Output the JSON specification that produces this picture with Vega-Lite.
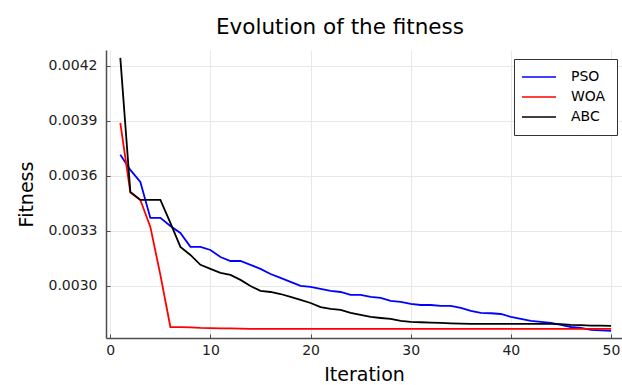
{
  "$schema": "https://vega.github.io/schema/vega-lite/v6.json",
  "autosize": {"type": "none"},
  "width": 516,
  "height": 288,
  "padding": {"left": 106, "top": 50, "right": 0, "bottom": 47},
  "background": "white",
  "config": {
    "font": "DejaVu Sans",
    "view": {"stroke": null},
    "axis": {
      "labelFont": "DejaVu Sans",
      "titleFont": "DejaVu Sans",
      "labelFontSize": 14,
      "labelColor": "#222222",
      "titleFontSize": 19,
      "titleFontWeight": "normal",
      "titleColor": "#000000",
      "gridColor": "#e8e8e8",
      "gridWidth": 1,
      "domainColor": "#4d4d4d",
      "domainWidth": 1.5,
      "tickColor": "#4d4d4d"
    }
  },
  "title": {
    "text": "Evolution of the fitness",
    "fontSize": 21.5,
    "fontWeight": "normal",
    "font": "DejaVu Sans",
    "color": "#000000",
    "anchor": "middle",
    "dx": -24,
    "offset": 12
  },
  "data": {
    "values": [
      {"iter": 1, "alg": "PSO", "fit": 0.003715},
      {"iter": 2, "alg": "PSO", "fit": 0.003633},
      {"iter": 3, "alg": "PSO", "fit": 0.003567},
      {"iter": 4, "alg": "PSO", "fit": 0.003371},
      {"iter": 5, "alg": "PSO", "fit": 0.003371},
      {"iter": 6, "alg": "PSO", "fit": 0.003327},
      {"iter": 7, "alg": "PSO", "fit": 0.003289},
      {"iter": 8, "alg": "PSO", "fit": 0.003213},
      {"iter": 9, "alg": "PSO", "fit": 0.003213},
      {"iter": 10, "alg": "PSO", "fit": 0.003196},
      {"iter": 11, "alg": "PSO", "fit": 0.003158},
      {"iter": 12, "alg": "PSO", "fit": 0.003136},
      {"iter": 13, "alg": "PSO", "fit": 0.003136},
      {"iter": 14, "alg": "PSO", "fit": 0.003115},
      {"iter": 15, "alg": "PSO", "fit": 0.003093},
      {"iter": 16, "alg": "PSO", "fit": 0.003065},
      {"iter": 17, "alg": "PSO", "fit": 0.003044},
      {"iter": 18, "alg": "PSO", "fit": 0.003022},
      {"iter": 19, "alg": "PSO", "fit": 0.003000},
      {"iter": 20, "alg": "PSO", "fit": 0.002995},
      {"iter": 21, "alg": "PSO", "fit": 0.002984},
      {"iter": 22, "alg": "PSO", "fit": 0.002973},
      {"iter": 23, "alg": "PSO", "fit": 0.002967},
      {"iter": 24, "alg": "PSO", "fit": 0.002951},
      {"iter": 25, "alg": "PSO", "fit": 0.002951},
      {"iter": 26, "alg": "PSO", "fit": 0.002940},
      {"iter": 27, "alg": "PSO", "fit": 0.002935},
      {"iter": 28, "alg": "PSO", "fit": 0.002918},
      {"iter": 29, "alg": "PSO", "fit": 0.002913},
      {"iter": 30, "alg": "PSO", "fit": 0.002902},
      {"iter": 31, "alg": "PSO", "fit": 0.002896},
      {"iter": 32, "alg": "PSO", "fit": 0.002896},
      {"iter": 33, "alg": "PSO", "fit": 0.002891},
      {"iter": 34, "alg": "PSO", "fit": 0.002891},
      {"iter": 35, "alg": "PSO", "fit": 0.002880},
      {"iter": 36, "alg": "PSO", "fit": 0.002864},
      {"iter": 37, "alg": "PSO", "fit": 0.002853},
      {"iter": 38, "alg": "PSO", "fit": 0.002851},
      {"iter": 39, "alg": "PSO", "fit": 0.002847},
      {"iter": 40, "alg": "PSO", "fit": 0.002831},
      {"iter": 41, "alg": "PSO", "fit": 0.002820},
      {"iter": 42, "alg": "PSO", "fit": 0.002809},
      {"iter": 43, "alg": "PSO", "fit": 0.002804},
      {"iter": 44, "alg": "PSO", "fit": 0.002798},
      {"iter": 45, "alg": "PSO", "fit": 0.002787},
      {"iter": 46, "alg": "PSO", "fit": 0.002776},
      {"iter": 47, "alg": "PSO", "fit": 0.002771},
      {"iter": 48, "alg": "PSO", "fit": 0.002760},
      {"iter": 49, "alg": "PSO", "fit": 0.002758},
      {"iter": 50, "alg": "PSO", "fit": 0.002755},
      {"iter": 1, "alg": "WOA", "fit": 0.003890},
      {"iter": 2, "alg": "WOA", "fit": 0.003510},
      {"iter": 3, "alg": "WOA", "fit": 0.003469},
      {"iter": 4, "alg": "WOA", "fit": 0.003322},
      {"iter": 5, "alg": "WOA", "fit": 0.003060},
      {"iter": 6, "alg": "WOA", "fit": 0.002776},
      {"iter": 7, "alg": "WOA", "fit": 0.002775},
      {"iter": 8, "alg": "WOA", "fit": 0.002774},
      {"iter": 9, "alg": "WOA", "fit": 0.002771},
      {"iter": 10, "alg": "WOA", "fit": 0.002770},
      {"iter": 11, "alg": "WOA", "fit": 0.002769},
      {"iter": 12, "alg": "WOA", "fit": 0.002768},
      {"iter": 13, "alg": "WOA", "fit": 0.002767},
      {"iter": 14, "alg": "WOA", "fit": 0.002766},
      {"iter": 15, "alg": "WOA", "fit": 0.002766},
      {"iter": 16, "alg": "WOA", "fit": 0.002766},
      {"iter": 17, "alg": "WOA", "fit": 0.002766},
      {"iter": 18, "alg": "WOA", "fit": 0.002766},
      {"iter": 19, "alg": "WOA", "fit": 0.002766},
      {"iter": 20, "alg": "WOA", "fit": 0.002766},
      {"iter": 21, "alg": "WOA", "fit": 0.002766},
      {"iter": 22, "alg": "WOA", "fit": 0.002766},
      {"iter": 23, "alg": "WOA", "fit": 0.002766},
      {"iter": 24, "alg": "WOA", "fit": 0.002766},
      {"iter": 25, "alg": "WOA", "fit": 0.002766},
      {"iter": 26, "alg": "WOA", "fit": 0.002766},
      {"iter": 27, "alg": "WOA", "fit": 0.002766},
      {"iter": 28, "alg": "WOA", "fit": 0.002766},
      {"iter": 29, "alg": "WOA", "fit": 0.002766},
      {"iter": 30, "alg": "WOA", "fit": 0.002766},
      {"iter": 31, "alg": "WOA", "fit": 0.002766},
      {"iter": 32, "alg": "WOA", "fit": 0.002766},
      {"iter": 33, "alg": "WOA", "fit": 0.002766},
      {"iter": 34, "alg": "WOA", "fit": 0.002766},
      {"iter": 35, "alg": "WOA", "fit": 0.002766},
      {"iter": 36, "alg": "WOA", "fit": 0.002766},
      {"iter": 37, "alg": "WOA", "fit": 0.002766},
      {"iter": 38, "alg": "WOA", "fit": 0.002766},
      {"iter": 39, "alg": "WOA", "fit": 0.002766},
      {"iter": 40, "alg": "WOA", "fit": 0.002766},
      {"iter": 41, "alg": "WOA", "fit": 0.002766},
      {"iter": 42, "alg": "WOA", "fit": 0.002766},
      {"iter": 43, "alg": "WOA", "fit": 0.002766},
      {"iter": 44, "alg": "WOA", "fit": 0.002766},
      {"iter": 45, "alg": "WOA", "fit": 0.002766},
      {"iter": 46, "alg": "WOA", "fit": 0.002766},
      {"iter": 47, "alg": "WOA", "fit": 0.002766},
      {"iter": 48, "alg": "WOA", "fit": 0.002766},
      {"iter": 49, "alg": "WOA", "fit": 0.002766},
      {"iter": 50, "alg": "WOA", "fit": 0.002766},
      {"iter": 1, "alg": "ABC", "fit": 0.004244},
      {"iter": 2, "alg": "ABC", "fit": 0.003513},
      {"iter": 3, "alg": "ABC", "fit": 0.003469},
      {"iter": 4, "alg": "ABC", "fit": 0.003469},
      {"iter": 5, "alg": "ABC", "fit": 0.003469},
      {"iter": 6, "alg": "ABC", "fit": 0.003344},
      {"iter": 7, "alg": "ABC", "fit": 0.003213},
      {"iter": 8, "alg": "ABC", "fit": 0.003169},
      {"iter": 9, "alg": "ABC", "fit": 0.003115},
      {"iter": 10, "alg": "ABC", "fit": 0.003093},
      {"iter": 11, "alg": "ABC", "fit": 0.003071},
      {"iter": 12, "alg": "ABC", "fit": 0.003060},
      {"iter": 13, "alg": "ABC", "fit": 0.003033},
      {"iter": 14, "alg": "ABC", "fit": 0.003000},
      {"iter": 15, "alg": "ABC", "fit": 0.002973},
      {"iter": 16, "alg": "ABC", "fit": 0.002967},
      {"iter": 17, "alg": "ABC", "fit": 0.002956},
      {"iter": 18, "alg": "ABC", "fit": 0.002940},
      {"iter": 19, "alg": "ABC", "fit": 0.002924},
      {"iter": 20, "alg": "ABC", "fit": 0.002907},
      {"iter": 21, "alg": "ABC", "fit": 0.002885},
      {"iter": 22, "alg": "ABC", "fit": 0.002875},
      {"iter": 23, "alg": "ABC", "fit": 0.002869},
      {"iter": 24, "alg": "ABC", "fit": 0.002853},
      {"iter": 25, "alg": "ABC", "fit": 0.002842},
      {"iter": 26, "alg": "ABC", "fit": 0.002831},
      {"iter": 27, "alg": "ABC", "fit": 0.002825},
      {"iter": 28, "alg": "ABC", "fit": 0.002820},
      {"iter": 29, "alg": "ABC", "fit": 0.002809},
      {"iter": 30, "alg": "ABC", "fit": 0.002804},
      {"iter": 31, "alg": "ABC", "fit": 0.002802},
      {"iter": 32, "alg": "ABC", "fit": 0.002800},
      {"iter": 33, "alg": "ABC", "fit": 0.002798},
      {"iter": 34, "alg": "ABC", "fit": 0.002796},
      {"iter": 35, "alg": "ABC", "fit": 0.002794},
      {"iter": 36, "alg": "ABC", "fit": 0.002793},
      {"iter": 37, "alg": "ABC", "fit": 0.002793},
      {"iter": 38, "alg": "ABC", "fit": 0.002793},
      {"iter": 39, "alg": "ABC", "fit": 0.002793},
      {"iter": 40, "alg": "ABC", "fit": 0.002793},
      {"iter": 41, "alg": "ABC", "fit": 0.002793},
      {"iter": 42, "alg": "ABC", "fit": 0.002793},
      {"iter": 43, "alg": "ABC", "fit": 0.002793},
      {"iter": 44, "alg": "ABC", "fit": 0.002793},
      {"iter": 45, "alg": "ABC", "fit": 0.002792},
      {"iter": 46, "alg": "ABC", "fit": 0.002788},
      {"iter": 47, "alg": "ABC", "fit": 0.002786},
      {"iter": 48, "alg": "ABC", "fit": 0.002784},
      {"iter": 49, "alg": "ABC", "fit": 0.002783},
      {"iter": 50, "alg": "ABC", "fit": 0.002782}
    ]
  },
  "mark": {"type": "line", "strokeWidth": 1.8, "clip": true},
  "encoding": {
    "x": {
      "field": "iter",
      "type": "quantitative",
      "title": "Iteration",
      "scale": {"domain": [-0.43, 51.1], "nice": false, "zero": false},
      "axis": {"values": [0, 10, 20, 30, 40, 50], "tickSize": -4, "labelPadding": 9, "titlePadding": 8, "labelFlush": false}
    },
    "y": {
      "field": "fit",
      "type": "quantitative",
      "title": "Fitness",
      "scale": {"domain": [0.002716, 0.004287], "nice": false, "zero": false},
      "axis": {"values": [0.003, 0.0033, 0.0036, 0.0039, 0.0042], "format": ".4f", "tickSize": -4, "labelPadding": 13, "titlePadding": 12, "labelFlush": false}
    },
    "color": {
      "field": "alg",
      "type": "nominal",
      "sort": ["PSO", "WOA", "ABC"],
      "scale": {"domain": ["PSO", "WOA", "ABC"], "range": ["#0000ff", "#ff0000", "#000000"]},
      "legend": {
        "title": null,
        "orient": "none",
        "legendX": 408,
        "legendY": 9,
        "padding": 11,
        "strokeColor": "#333333",
        "fillColor": "white",
        "symbolType": "M-3.4,0H3.4",
        "symbolSize": 100,
        "symbolOffset": 7,
        "symbolStrokeWidth": 1.5,
        "labelOffset": 25,
        "labelFontSize": 14,
        "labelFont": "DejaVu Sans",
        "labelColor": "#000000",
        "rowPadding": 6
      }
    }
  }
}
